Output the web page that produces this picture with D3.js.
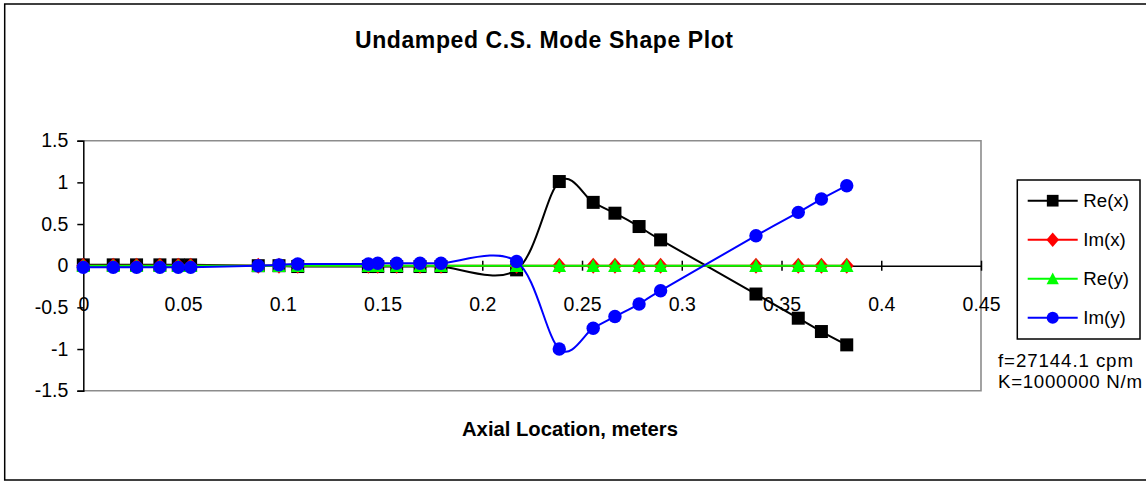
<!DOCTYPE html>
<html>
<head>
<meta charset="utf-8">
<script src="https://cdn.jsdelivr.net/npm/d3@7"></script>
<style>
  html, body { margin: 0; padding: 0; background: #fff; }
  svg { display: block; font-family: "Liberation Sans", Arial, sans-serif; }
</style>
</head>
<body>
<svg id="chart" width="1146" height="483"></svg>
<script>
// Axial stations along the rotor (meters)
const axialLocation = [0, 0.015, 0.0267, 0.0384, 0.0476, 0.0538, 0.0877, 0.0981, 0.1075,
  0.1429, 0.1476, 0.1571, 0.1688, 0.1793, 0.2172, 0.2386, 0.2556, 0.2665, 0.2786, 0.2894,
  0.3372, 0.3584, 0.37, 0.3827];

// Mode shape components at each station
const reX = [0.01, 0.01, 0.01, 0.01, 0.01, 0.01, 0.0, 0.0, -0.01,
  -0.01, -0.01, -0.01, -0.01, -0.01, -0.05, 1.01, 0.76, 0.63, 0.47, 0.31,
  -0.34, -0.63, -0.79, -0.95];
const imX = [0, 0, 0, 0, 0, 0, 0, 0, 0, 0, 0, 0, 0, 0, 0, 0, 0, 0, 0, 0, 0, 0, 0, 0];
const reY = [0, 0, 0, 0, 0, 0, 0, 0, 0, 0, 0, 0, 0, 0, 0, 0, 0, 0, 0, 0, 0, 0, 0, 0];
const imY = [-0.02, -0.02, -0.02, -0.02, -0.02, -0.02, 0.0, 0.01, 0.02,
  0.02, 0.03, 0.03, 0.03, 0.03, 0.05, -1.0, -0.75, -0.61, -0.46, -0.30,
  0.36, 0.64, 0.80, 0.96];

const seriesNames = ["Re(x)", "Im(x)", "Re(y)", "Im(y)"];
const seriesColors = ["#000000", "#ff0000", "#00ff00", "#0000ff"];
const seriesMarkers = ["square", "diamond", "triangle", "circle"];

const xTicks = [0, 0.05, 0.1, 0.15, 0.2, 0.25, 0.3, 0.35, 0.4, 0.45];
const yTicks = [-1.5, -1, -0.5, 0, 0.5, 1, 1.5];

const titleText = "Undamped C.S. Mode Shape Plot";
const xTitleText = "Axial Location, meters";
const notes = ["f=27144.1 cpm", "K=1000000 N/m"];

const svg = d3.select("#chart");
const plain = d => String(d);

// chart frame
svg.append("rect")
  .attr("x", 4.7).attr("y", 4).attr("width", 1150).attr("height", 476)
  .attr("fill", "#fff").attr("stroke", "#000").attr("stroke-width", 1.5);

const x = d3.scaleLinear().domain([0, 0.45]).range([83.3, 981]);
const y = d3.scaleLinear().domain([-1.5, 1.5]).range([390.7, 140.7]);

// plot area border
svg.append("path")
  .attr("d", `M${x(0)},${y(1.5)}H${x(0.45)}V${y(-1.5)}H${x(0)}`)
  .attr("fill", "none").attr("stroke", "#8c8c8c").attr("stroke-width", 1.6);

// y axis
const yAxis = d3.axisLeft(y).tickValues(yTicks).tickSize(6).tickPadding(9)
  .tickFormat(plain);
const gy = svg.append("g").attr("transform", `translate(${x(0)},0)`).call(yAxis);
gy.select(".domain").attr("stroke", "#000").attr("stroke-width", 1.5);
gy.selectAll(".tick line").attr("stroke", "#000").attr("stroke-width", 1.5);
gy.selectAll(".tick text").attr("font-size", "19.5px").attr("fill", "#000")
  .attr("font-family", "Liberation Sans, Arial, sans-serif");

// x axis through y = 0, ticks crossing the line
const xAxis = d3.axisBottom(x).tickValues(xTicks).tickSize(0).tickPadding(0)
  .tickFormat(plain);
const gx = svg.append("g").attr("transform", `translate(0,${y(0)})`).call(xAxis);
gx.select(".domain").attr("stroke", "#000").attr("stroke-width", 1.5);
gx.selectAll(".tick line").attr("y1", -5).attr("y2", 5)
  .attr("stroke", "#000").attr("stroke-width", 1.5);
gx.selectAll(".tick text").attr("font-size", "19.5px").attr("fill", "#000")
  .attr("dy", null).attr("y", 45.7)
  .attr("font-family", "Liberation Sans, Arial, sans-serif");

// marker shapes
function markerPath(kind) {
  if (kind === "square") return "M-6.5,-6.5H6.5V6.5H-6.5Z";
  if (kind === "diamond") return "M0,-8L7,0L0,8L-7,0Z";
  if (kind === "triangle") return "M0,-6.8L6.8,6.2H-6.8Z";
  return d3.symbol(d3.symbolCircle, Math.PI * 6.7 * 6.7)();
}

const seriesValues = [reX, imX, reY, imY];
const line = d3.line()
  .x(d => x(d[0])).y(d => y(d[1]))
  .curve(d3.curveCatmullRom.alpha(0));

seriesValues.forEach((vals, i) => {
  const pts = axialLocation.map((a, k) => [a, vals[k]]);
  const g = svg.append("g");
  g.append("path").datum(pts).attr("d", line)
    .attr("fill", "none").attr("stroke", seriesColors[i]).attr("stroke-width", 2);
  g.selectAll("path.mk").data(pts).join("path").attr("class", "mk")
    .attr("d", markerPath(seriesMarkers[i]))
    .attr("transform", d => `translate(${x(d[0])},${y(d[1])})`)
    .attr("fill", seriesColors[i]);
});

// title
svg.append("text").attr("x", 544).attr("y", 48).attr("text-anchor", "middle")
  .attr("font-size", "23px").attr("font-weight", "bold")
  .attr("textLength", 378).attr("lengthAdjust", "spacing")
  .text(titleText);

// x axis title
svg.append("text").attr("x", 570).attr("y", 435.7).attr("text-anchor", "middle")
  .attr("font-size", "21px").attr("font-weight", "bold")
  .attr("textLength", 216).attr("lengthAdjust", "spacingAndGlyphs")
  .text(xTitleText);

// legend
const legend = svg.append("g");
legend.append("rect").attr("x", 1017.3).attr("y", 180).attr("width", 122.7).attr("height", 159)
  .attr("fill", "#fff").attr("stroke", "#000").attr("stroke-width", 1.5);
const legendRowY = d3.scalePoint().domain(seriesNames).range([200.7, 317.7]);
seriesNames.forEach((name, i) => {
  const cy = legendRowY(name);
  legend.append("line").attr("x1", 1027.7).attr("x2", 1077.7).attr("y1", cy).attr("y2", cy)
    .attr("stroke", seriesColors[i]).attr("stroke-width", 2);
  legend.append("path").attr("d", markerPath(seriesMarkers[i]))
    .attr("transform", `translate(1052.7,${cy}) scale(0.9)`)
    .attr("fill", seriesColors[i]);
  legend.append("text").attr("x", 1083.3).attr("y", cy + 6.2)
    .attr("font-size", "18.7px").text(name);
});

// run parameters
svg.append("text").attr("x", 998).attr("y", 366.7).attr("font-size", "18.7px")
  .attr("textLength", 135).attr("lengthAdjust", "spacing").text(notes[0]);
svg.append("text").attr("x", 998).attr("y", 388.3).attr("font-size", "18.7px")
  .attr("textLength", 144).attr("lengthAdjust", "spacing").text(notes[1]);
</script>
</body>
</html>
